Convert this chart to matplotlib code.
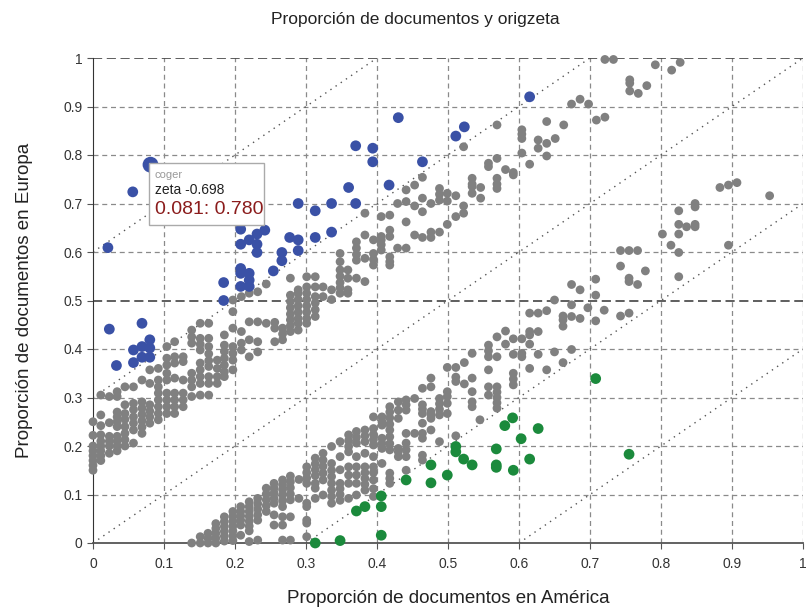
import matplotlib
matplotlib.use("Agg")
import matplotlib.pyplot as plt
from matplotlib.patches import Rectangle

plt.rcParams['font.family'] = ['Liberation Sans', 'DejaVu Sans']

# gray points, read column by column: (x, [y values])
gray_upper = [
    (0.000, [0.25, 0.222, 0.20, 0.19, 0.18, 0.17, 0.16, 0.15]),
    (0.011, [0.305, 0.264, 0.242, 0.223, 0.21, 0.20, 0.19, 0.18, 0.17]),
    (0.023, [0.302, 0.248, 0.22, 0.21, 0.20, 0.185]),
    (0.034, [0.312, 0.302, 0.27, 0.26, 0.25, 0.24, 0.22, 0.21, 0.20, 0.19]),
    (0.045, [0.322, 0.285, 0.267, 0.255, 0.24, 0.226, 0.213, 0.20]),
    (0.057, [0.322, 0.288, 0.275, 0.26, 0.247, 0.233, 0.206]),
    (0.069, [0.336, 0.291, 0.278, 0.265, 0.252, 0.239, 0.226]),
    (0.080, [0.357, 0.329, 0.285, 0.272, 0.26, 0.247]),
    (0.092, [0.36, 0.336, 0.322, 0.309, 0.295, 0.281, 0.267, 0.254]),
    (0.104, [0.405, 0.381, 0.367, 0.35, 0.336, 0.309, 0.295, 0.281, 0.267]),
    (0.115, [0.415, 0.384, 0.371, 0.34, 0.309, 0.295, 0.281, 0.267]),
    (0.127, [0.384, 0.374, 0.336, 0.309, 0.295, 0.281]),
    (0.139, [0.439, 0.425, 0.412, 0.35, 0.336, 0.322, 0.302]),
    (0.151, [0.453, 0.422, 0.41, 0.398, 0.371, 0.357, 0.343, 0.329, 0.305]),
    (0.163, [0.453, 0.422, 0.405, 0.39, 0.376, 0.364, 0.343, 0.329, 0.305]),
    (0.175, [0.377, 0.36, 0.343, 0.329]),
    (0.185, [0.429, 0.408, 0.395, 0.381, 0.367, 0.353, 0.343]),
    (0.197, [0.501, 0.477, 0.443, 0.405, 0.391, 0.377, 0.357]),
    (0.209, [0.508, 0.436, 0.412, 0.398]),
    (0.220, [0.515, 0.456, 0.419, 0.384]),
    (0.232, [0.518, 0.456, 0.415, 0.394]),
    (0.244, [0.534, 0.453]),
    (0.256, [0.455, 0.443, 0.415]),
    (0.267, [0.443, 0.431, 0.419]),
    (0.278, [0.546, 0.511, 0.498, 0.485, 0.472, 0.46, 0.448, 0.436]),
    (0.289, [0.522, 0.515, 0.502, 0.489, 0.476, 0.463, 0.453, 0.439]),
    (0.301, [0.549, 0.528, 0.515, 0.502, 0.489, 0.476, 0.463, 0.453]),
    (0.313, [0.549, 0.528, 0.508, 0.495, 0.481, 0.467]),
    (0.324, [0.528, 0.508]),
    (0.336, [0.522, 0.502]),
    (0.348, [0.597, 0.58, 0.563, 0.55, 0.537, 0.526, 0.515]),
    (0.359, [0.563, 0.546, 0.522, 0.515]),
    (0.371, [0.621, 0.608, 0.595, 0.583, 0.546]),
    (0.383, [0.68, 0.635, 0.587, 0.539]),
    (0.395, [0.625, 0.597, 0.585, 0.573]),
    (0.406, [0.673, 0.632, 0.625, 0.615, 0.604]),
    (0.418, [0.676, 0.645, 0.632, 0.59, 0.58, 0.573]),
    (0.429, [0.70, 0.608]),
    (0.441, [0.728, 0.704, 0.662, 0.608]),
    (0.453, [0.738, 0.695, 0.635]),
    (0.464, [0.754, 0.711, 0.683, 0.63]),
    (0.476, [0.70, 0.641, 0.63]),
    (0.488, [0.731, 0.719, 0.707, 0.641]),
    (0.499, [0.721, 0.705, 0.657]),
    (0.511, [0.716, 0.673]),
    (0.522, [0.817, 0.695, 0.68]),
    (0.534, [0.752, 0.74, 0.735, 0.721]),
    (0.546, [0.733, 0.711]),
    (0.557, [0.783, 0.776]),
    (0.569, [0.862, 0.793, 0.752, 0.74, 0.731]),
    (0.581, [0.77]),
    (0.592, [0.764, 0.759]),
    (0.604, [0.852, 0.843, 0.834, 0.804]),
    (0.615, [0.781]),
    (0.627, [0.831, 0.814]),
    (0.639, [0.869, 0.824, 0.798]),
    (0.651, [0.834]),
    (0.663, [0.862]),
    (0.674, [0.905]),
    (0.686, [0.915]),
    (0.698, [0.905]),
    (0.709, [0.872]),
    (0.721, [0.997, 0.878]),
    (0.733, [0.997]),
    (0.756, [0.955, 0.948, 0.932]),
    (0.768, [0.927]),
    (0.780, [0.943]),
    (0.792, [0.986]),
    (0.815, [0.975]),
    (0.827, [0.991]),
]

gray_lower = [
    (0.139, [0.0]),
    (0.151, [0.013, 0.0]),
    (0.162, [0.02, 0.01, 0.0]),
    (0.173, [0.04, 0.03, 0.02, 0.01, 0.0]),
    (0.185, [0.054, 0.044, 0.034, 0.024, 0.014, 0.004]),
    (0.197, [0.065, 0.055, 0.045, 0.035, 0.025, 0.015, 0.005]),
    (0.208, [0.075, 0.065, 0.056, 0.047, 0.037, 0.016]),
    (0.220, [0.085, 0.075, 0.065, 0.055, 0.045, 0.035, 0.025, 0.003]),
    (0.232, [0.092, 0.081, 0.07, 0.058, 0.047, 0.006]),
    (0.244, [0.113, 0.101, 0.089, 0.077, 0.065]),
    (0.255, [0.123, 0.113, 0.103, 0.092, 0.082, 0.058, 0.037]),
    (0.267, [0.13, 0.12, 0.11, 0.099, 0.087, 0.075, 0.054, 0.037, 0.006]),
    (0.278, [0.138, 0.126, 0.114, 0.101, 0.089, 0.054, 0.006]),
    (0.290, [0.131, 0.092]),
    (0.301, [0.157, 0.145, 0.134, 0.123, 0.082, 0.075, 0.047, 0.041, 0.013]),
    (0.313, [0.175, 0.163, 0.151, 0.139, 0.123, 0.113, 0.092]),
    (0.324, [0.185, 0.171, 0.158, 0.144, 0.13, 0.099]),
    (0.336, [0.199, 0.164, 0.15, 0.137, 0.123, 0.109, 0.096, 0.082]),
    (0.348, [0.209, 0.178, 0.151, 0.123, 0.112, 0.1, 0.088]),
    (0.360, [0.223, 0.211, 0.199, 0.188, 0.157, 0.14, 0.123, 0.092]),
    (0.371, [0.23, 0.218, 0.206, 0.178, 0.157, 0.14, 0.123, 0.099]),
    (0.383, [0.233, 0.221, 0.209, 0.185, 0.157, 0.145, 0.133, 0.121, 0.109]),
    (0.395, [0.26, 0.236, 0.224, 0.213, 0.202, 0.178, 0.157, 0.145, 0.13, 0.112, 0.096]),
    (0.407, [0.26, 0.25, 0.243, 0.216, 0.205, 0.195, 0.164]),
    (0.418, [0.281, 0.27, 0.258, 0.245, 0.233, 0.219, 0.205, 0.192, 0.144, 0.133, 0.123]),
    (0.430, [0.291, 0.274, 0.257, 0.195, 0.188, 0.178]),
    (0.441, [0.295, 0.285, 0.274, 0.226, 0.206, 0.192, 0.178, 0.15]),
    (0.453, [0.298, 0.226]),
    (0.464, [0.319, 0.285, 0.276, 0.267, 0.247, 0.226, 0.216, 0.181, 0.171]),
    (0.476, [0.34, 0.322, 0.271, 0.264, 0.257, 0.233]),
    (0.488, [0.298, 0.287, 0.276, 0.264, 0.209]),
    (0.499, [0.362, 0.312, 0.302, 0.288, 0.267]),
    (0.511, [0.362, 0.342, 0.333, 0.221]),
    (0.523, [0.372, 0.328]),
    (0.534, [0.391, 0.34, 0.312, 0.291, 0.281]),
    (0.545, [0.254]),
    (0.557, [0.408, 0.396, 0.384, 0.357, 0.322, 0.305]),
    (0.569, [0.425, 0.384, 0.322, 0.311, 0.3, 0.289, 0.278]),
    (0.581, [0.437, 0.41]),
    (0.592, [0.421, 0.389, 0.35, 0.338, 0.326]),
    (0.604, [0.421, 0.391, 0.384]),
    (0.615, [0.474, 0.436, 0.429, 0.41, 0.36]),
    (0.627, [0.474, 0.436, 0.389]),
    (0.639, [0.479, 0.357]),
    (0.650, [0.501, 0.394]),
    (0.662, [0.468, 0.46, 0.447, 0.372]),
    (0.674, [0.533, 0.491, 0.467, 0.399]),
    (0.686, [0.522, 0.463]),
    (0.697, [0.485]),
    (0.708, [0.544, 0.511, 0.458]),
    (0.720, [0.48]),
    (0.743, [0.603, 0.571, 0.468]),
    (0.755, [0.603, 0.546, 0.539, 0.474]),
    (0.767, [0.603, 0.533]),
    (0.778, [0.561]),
    (0.802, [0.637]),
    (0.814, [0.614]),
    (0.825, [0.685, 0.657, 0.637, 0.599, 0.549]),
    (0.836, [0.652]),
    (0.848, [0.70, 0.693, 0.657, 0.652]),
    (0.883, [0.733]),
    (0.895, [0.738, 0.614]),
    (0.907, [0.743]),
    (0.953, [0.716]),
]

blue_x = [0.056, 0.021, 0.023, 0.069, 0.080, 0.057, 0.069, 0.080, 0.069, 0.080,
          0.033, 0.057, 0.184, 0.184, 0.208, 0.220, 0.220, 0.370, 0.394, 0.394,
          0.360, 0.289, 0.313, 0.336, 0.370, 0.336, 0.313, 0.277, 0.289, 0.289,
          0.266, 0.266, 0.254, 0.242, 0.231, 0.220, 0.231, 0.231, 0.208, 0.208,
          0.208, 0.208, 0.220, 0.430, 0.615, 0.523, 0.511, 0.464, 0.417]
blue_y = [0.724, 0.609, 0.441, 0.453, 0.419, 0.398, 0.405, 0.402, 0.383, 0.383,
          0.366, 0.372, 0.537, 0.500, 0.529, 0.529, 0.542, 0.819, 0.814, 0.786,
          0.733, 0.700, 0.685, 0.700, 0.700, 0.641, 0.630, 0.630, 0.625, 0.603,
          0.599, 0.582, 0.561, 0.645, 0.637, 0.625, 0.616, 0.599, 0.647, 0.616,
          0.566, 0.556, 0.556, 0.877, 0.920, 0.858, 0.839, 0.786, 0.738]

green_x = [0.708, 0.755, 0.591, 0.580, 0.627, 0.603, 0.568, 0.615, 0.568, 0.568,
           0.592, 0.534, 0.522, 0.511, 0.511, 0.499, 0.476, 0.476, 0.441, 0.406,
           0.406, 0.383, 0.371, 0.406, 0.348, 0.313]
green_y = [0.339, 0.183, 0.258, 0.242, 0.236, 0.215, 0.194, 0.173, 0.161, 0.156,
           0.150, 0.161, 0.173, 0.199, 0.188, 0.140, 0.161, 0.124, 0.130, 0.097,
           0.075, 0.075, 0.066, 0.016, 0.005, 0.0]

sel_word = "coger"
sel_zeta = -0.698
sel_x, sel_y = 0.081, 0.780

ticks = [0, 0.1, 0.2, 0.3, 0.4, 0.5, 0.6, 0.7, 0.8, 0.9, 1]
tick_labels = ["0", "0.1", "0.2", "0.3", "0.4", "0.5", "0.6", "0.7", "0.8", "0.9", "1"]
diag_offsets = [0.6, 0.3, 0.0, -0.3, -0.6]

gx, gy = [], []
for x, ys in gray_upper + gray_lower:
    for y in ys:
        gx.append(x)
        gy.append(y)

fig = plt.figure(figsize=(8.11, 6.09), dpi=100)
ax = fig.add_axes([93 / 811, 1 - 543 / 609, 710 / 811, 485 / 609])
ax.set_xlim(0, 1)
ax.set_ylim(0, 1)

# grid
for t in ticks[1:]:
    ax.axvline(t, color="#8a8a8a", lw=0.9, ls=(0, (4, 3)), zorder=1)
for t in ticks[1:]:
    if t in (0.5, 1):
        ax.axhline(t, color="#333333", lw=1.1, ls=(0, (6, 3)), zorder=1)
    else:
        ax.axhline(t, color="#8a8a8a", lw=0.9, ls=(0, (4, 3)), zorder=1)

# diagonal guides
for off in diag_offsets:
    xs = [max(0, -off), min(1, 1 - off)]
    ax.plot(xs, [x + off for x in xs], color="#555555", lw=1.0,
            ls=(0, (1, 3.5)), zorder=2)

ax.scatter(gx, gy, s=40, color="#808080", edgecolors="none", zorder=3, clip_on=False)
ax.scatter(blue_x, blue_y, s=60, color="#3a51a6", edgecolors="none", zorder=4, clip_on=False)
ax.scatter(green_x, green_y, s=60, color="#1b8a3c", edgecolors="none", zorder=4, clip_on=False)
ax.scatter([sel_x], [sel_y], s=130, color="#3a51a6", edgecolors="none", zorder=4)

for s in ["top", "right"]:
    ax.spines[s].set_visible(False)
ax.spines["left"].set_color("#333333")
ax.spines["bottom"].set_color("#555555")
ax.spines["bottom"].set_linewidth(1.3)

ax.set_xticks(ticks)
ax.set_xticklabels(tick_labels)
ax.set_yticks(ticks)
ax.set_yticklabels(tick_labels)
ax.tick_params(axis="both", length=4, color="#555555", labelsize=10, labelcolor="#333333")
ax.tick_params(axis="x", pad=6)

ax.set_xlabel("Proporción de documentos en América", fontsize=13.5, color="#222222", labelpad=14)
ax.set_ylabel("Proporción de documentos en Europa", fontsize=13.5, color="#222222", labelpad=22)
fig.text(0.512, 0.968, "Proporción de documentos y origzeta", ha="center", va="center",
         fontsize=12.5, color="#222222")

# tooltip
box = Rectangle((0.079, 0.656), 0.162, 0.127, facecolor="white", edgecolor="#aaaaaa",
                lw=1.0, zorder=6)
ax.add_patch(box)
ax.text(0.087, 0.759, sel_word, fontsize=8, color="#999999", va="center", zorder=7)
ax.text(0.087, 0.728, f"zeta {sel_zeta:.3f}", fontsize=10, color="#222222", va="center", zorder=7)
ax.text(0.087, 0.687, f"{sel_x:.3f}: {sel_y:.3f}", fontsize=14, color="#8b1c1c",
        va="center", zorder=7)

fig.savefig("out.png", dpi=100)
